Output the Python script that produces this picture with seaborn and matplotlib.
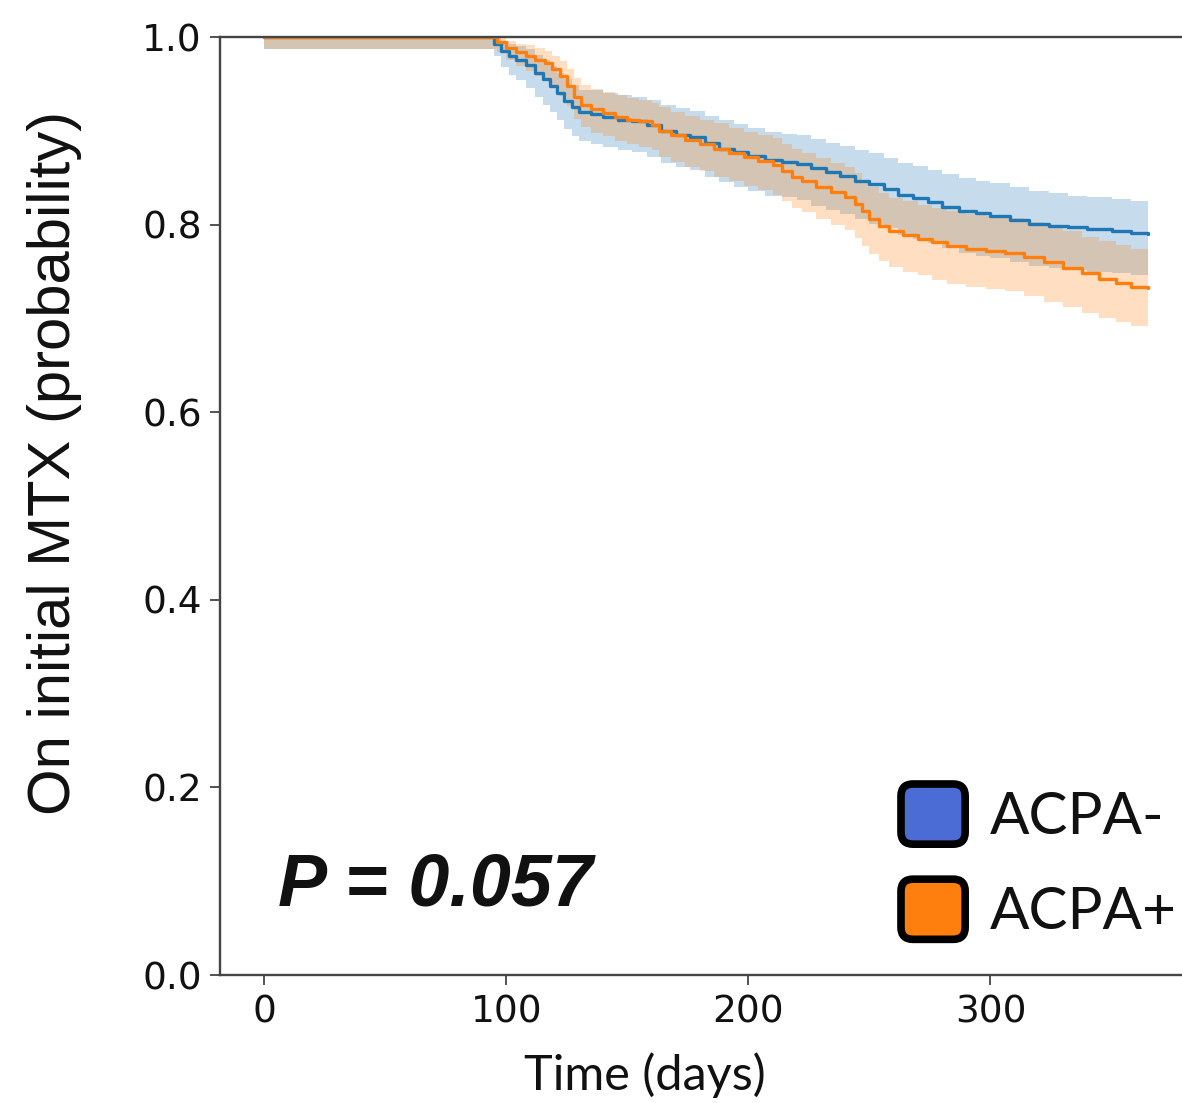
"""
Kaplan-Meier style plot: probability of staying on initial MTX by ACPA status.
"""

import matplotlib
matplotlib.use('Agg')
import matplotlib.pyplot as plt
from matplotlib.patches import Patch, FancyBboxPatch
from matplotlib.legend_handler import HandlerPatch
import seaborn as sns
import pandas as pd


# ── Data ──
neg_days = [0, 95, 98, 101, 104, 108, 112, 115, 118, 121, 124, 127, 130, 135, 140,
            146, 152, 158, 164, 170, 176, 182, 188, 194, 200, 207, 214, 220, 226,
            232, 238, 244, 250, 256, 262, 268, 274, 280, 287, 294, 300, 308, 316,
            324, 332, 340, 350, 358, 365]
neg_surv = [1.000, 0.993, 0.985, 0.980, 0.976, 0.970, 0.962, 0.955, 0.948, 0.940,
            0.932, 0.925, 0.920, 0.918, 0.915, 0.912, 0.910, 0.906, 0.900, 0.896,
            0.893, 0.887, 0.881, 0.877, 0.873, 0.869, 0.867, 0.865, 0.860, 0.856,
            0.852, 0.847, 0.843, 0.838, 0.832, 0.828, 0.824, 0.819, 0.815, 0.812,
            0.809, 0.805, 0.801, 0.799, 0.797, 0.795, 0.793, 0.791, 0.790]
neg_lo = [0.987, 0.980, 0.968, 0.960, 0.954, 0.946, 0.936, 0.928, 0.920, 0.911,
          0.902, 0.894, 0.889, 0.886, 0.883, 0.879, 0.877, 0.872, 0.866, 0.861,
          0.858, 0.851, 0.845, 0.840, 0.836, 0.831, 0.829, 0.826, 0.820, 0.816,
          0.811, 0.806, 0.801, 0.796, 0.789, 0.785, 0.780, 0.775, 0.770, 0.767,
          0.764, 0.760, 0.756, 0.754, 0.752, 0.750, 0.748, 0.746, 0.745]
neg_hi = [1.000, 1.000, 0.996, 0.993, 0.990, 0.987, 0.981, 0.975, 0.969, 0.962,
          0.955, 0.949, 0.944, 0.943, 0.940, 0.938, 0.936, 0.933, 0.928, 0.924,
          0.921, 0.916, 0.911, 0.907, 0.903, 0.899, 0.897, 0.895, 0.891, 0.887,
          0.884, 0.879, 0.876, 0.871, 0.866, 0.862, 0.858, 0.854, 0.850, 0.847,
          0.844, 0.840, 0.836, 0.834, 0.831, 0.829, 0.827, 0.825, 0.824]

pos_days = [0, 96, 100, 104, 108, 112, 116, 119, 122, 125, 128, 131, 135, 140, 145,
            150, 155, 160, 163, 168, 174, 180, 186, 192, 198, 204, 210, 214, 218,
            222, 228, 234, 240, 244, 247, 250, 254, 258, 264, 270, 276, 282, 290,
            298, 306, 314, 322, 330, 338, 345, 352, 358, 365]
pos_surv = [1.000, 0.995, 0.988, 0.984, 0.980, 0.976, 0.972, 0.966, 0.958, 0.948,
            0.936, 0.928, 0.923, 0.919, 0.915, 0.912, 0.910, 0.906, 0.900, 0.895,
            0.890, 0.886, 0.881, 0.876, 0.872, 0.868, 0.864, 0.857, 0.851, 0.846,
            0.840, 0.835, 0.829, 0.822, 0.814, 0.806, 0.799, 0.793, 0.789, 0.785,
            0.781, 0.777, 0.774, 0.772, 0.770, 0.765, 0.760, 0.754, 0.748, 0.742,
            0.738, 0.734, 0.732]
pos_lo = [0.987, 0.984, 0.975, 0.969, 0.964, 0.958, 0.953, 0.946, 0.937, 0.926,
          0.913, 0.904, 0.898, 0.894, 0.889, 0.886, 0.883, 0.879, 0.872, 0.867,
          0.861, 0.857, 0.851, 0.846, 0.841, 0.837, 0.832, 0.825, 0.818, 0.813,
          0.806, 0.800, 0.794, 0.786, 0.777, 0.769, 0.761, 0.755, 0.750, 0.746,
          0.741, 0.737, 0.734, 0.731, 0.729, 0.724, 0.718, 0.712, 0.706, 0.700,
          0.696, 0.692, 0.690]
pos_hi = [1.000, 1.000, 0.996, 0.993, 0.991, 0.988, 0.985, 0.980, 0.974, 0.966,
          0.956, 0.949, 0.945, 0.941, 0.938, 0.935, 0.933, 0.930, 0.925, 0.920,
          0.916, 0.912, 0.908, 0.903, 0.899, 0.896, 0.892, 0.886, 0.881, 0.876,
          0.871, 0.866, 0.861, 0.855, 0.848, 0.840, 0.834, 0.828, 0.825, 0.821,
          0.818, 0.814, 0.811, 0.809, 0.807, 0.803, 0.798, 0.793, 0.787, 0.782,
          0.778, 0.774, 0.771]

GROUPS = ['ACPA-', 'ACPA+']
LINE_COLORS = {'ACPA-': '#1f77b4', 'ACPA+': '#ff7f0e'}
LEGEND_COLORS = {'ACPA-': '#4a6cd4', 'ACPA+': '#ff7f0e'}
X_TICKS = [0, 100, 200, 300]
Y_TICKS = [0.0, 0.2, 0.4, 0.6, 0.8, 1.0]
P_TEXT = 'P = 0.057'


def rounded_square(legend, orig_handle, xdescent, ydescent, width, height, fontsize):
    r = 0.2 * height
    return FancyBboxPatch((-xdescent, -ydescent), width, height,
                          boxstyle=f'round,pad=0,rounding_size={r}',
                          mutation_aspect=1)


frames = []
for name, d, s, lo, hi in [('ACPA-', neg_days, neg_surv, neg_lo, neg_hi),
                           ('ACPA+', pos_days, pos_surv, pos_lo, pos_hi)]:
    frames.append(pd.DataFrame({'day': d, 'surv': s, 'lo': lo, 'hi': hi, 'group': name}))
df = pd.concat(frames, ignore_index=True)

sns.set_style('white')

W, H = 1182, 1103
fig = plt.figure(figsize=(W / 100, H / 100), dpi=100)
fig.patch.set_facecolor('white')
ax = fig.add_axes([220 / W, 128 / H, 972 / W, 938 / H])

for g in GROUPS:
    sub = df[df['group'] == g]
    ax.fill_between(sub['day'], sub['lo'], sub['hi'], step='post',
                    color=LINE_COLORS[g], alpha=0.25, linewidth=0)
    sns.lineplot(data=sub, x='day', y='surv', drawstyle='steps-post',
                 color=LINE_COLORS[g], linewidth=2.4, ax=ax, legend=False)

ax.set_xlim(-18.25, 383.25)
ax.set_ylim(0, 1.0)
ax.set_xticks(X_TICKS)
ax.set_yticks(Y_TICKS)
ax.set_yticklabels([f'{v:.1f}' for v in Y_TICKS])
ax.tick_params(axis='both', labelsize=27, length=7, width=1.3, color='#444444',
               labelcolor='#111111', direction='out', bottom=True, left=True)
ax.tick_params(axis='x', pad=7)
ax.tick_params(axis='y', pad=6)
for side in ['left', 'bottom', 'top', 'right']:
    ax.spines[side].set_color('#444444')
    ax.spines[side].set_linewidth(1.7)

ax.set_xlabel('Time (days)', fontsize=35, family=['Lato', 'DejaVu Sans'], color='#111111')
ax.xaxis.set_label_coords((645 - 220) / 972, -(1090 - 975) / 938)
ax.xaxis.label.set_va('baseline')
ax.set_ylabel('On initial MTX (probability)', fontsize=43,
              family=['Liberation Sans', 'DejaVu Sans'], color='#111111')
ax.yaxis.set_label_coords(-(220 - 82) / 972, (975 - 463) / 938)

ax.text((278 - 220) / 972, (975 - 905) / 938, P_TEXT, transform=ax.transAxes,
        fontsize=53, fontweight='bold', fontstyle='italic',
        family=['Liberation Sans', 'DejaVu Sans'], color='#111111', va='baseline')

handles = [Patch(facecolor=LEGEND_COLORS[g], edgecolor='black', linewidth=5.5) for g in GROUPS]
leg = ax.legend(handles, GROUPS, loc='upper left',
                bbox_to_anchor=(901 / W, 1 - 784 / H), bbox_transform=fig.transFigure,
                frameon=False, borderpad=0, borderaxespad=0,
                prop={'family': ['Lato', 'DejaVu Sans'], 'size': 42},
                handlelength=1.1, handleheight=1.21, handletextpad=0.42,
                labelspacing=0.6,
                handler_map={Patch: HandlerPatch(patch_func=rounded_square)})
for t in leg.get_texts():
    t.set_color('#111111')

fig.savefig('out.png', dpi=100, facecolor='white')
plt.close(fig)
